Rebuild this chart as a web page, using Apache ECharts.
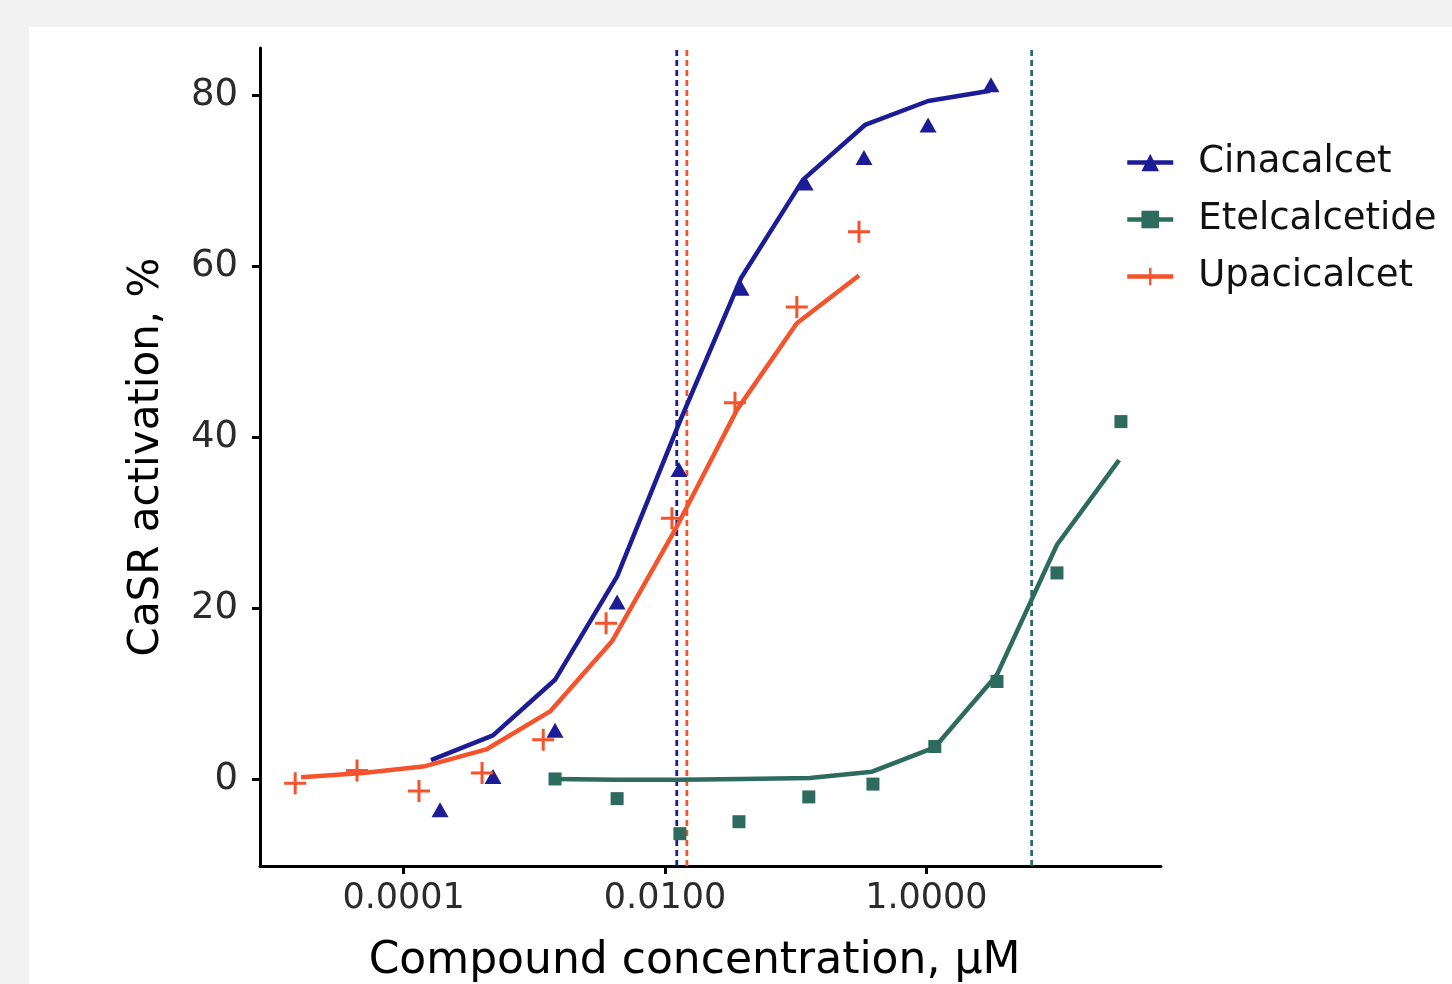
<!DOCTYPE html>
<html>
<head>
<meta charset="utf-8">
<script src="https://cdn.jsdelivr.net/npm/echarts@6/dist/echarts.min.js"></script>
<style>
html,body{margin:0;padding:0;background:#f2f2f2;width:1452px;height:984px;overflow:hidden;}
#chart{position:absolute;left:29px;top:27px;width:1423px;height:957px;background:#ffffff;}
</style>
</head>
<body>
<div id="chart"></div>
<script>
// ---- data (concentration in µM, response in %) ----
const cinaConc = [1.90e-4, 4.83e-4, 1.44e-3, 4.30e-3, 0.0128, 0.0382, 0.118, 0.333, 1.03, 3.12];
const cinaResp = [-3.6, 0.3, 5.7, 20.7, 36.2, 57.4, 69.7, 72.7, 76.5, 81.2];
const cinaFitConc = [1.62e-4, 4.83e-4, 1.44e-3, 4.30e-3, 0.0128, 0.0382, 0.114, 0.339, 1.03, 3.07];
const cinaFitResp = [2.2, 5.1, 11.6, 23.7, 41.6, 58.6, 70.1, 76.5, 79.3, 80.5];

const etelConc = [1.44e-3, 4.30e-3, 0.0130, 0.0368, 0.126, 0.390, 1.16, 3.47, 9.98, 30.8];
const etelResp = [0.0, -2.3, -6.4, -5.0, -2.1, -0.6, 3.8, 11.4, 24.1, 41.8];
const etelFitConc = [1.44e-3, 4.30e-3, 0.0130, 0.0388, 0.128, 0.384, 1.16, 3.47, 9.98, 29.8];
const etelFitResp = [0.0, -0.1, -0.1, 0.0, 0.1, 0.85, 3.7, 12.2, 27.4, 37.3];

const upaConc = [1.48e-5, 4.40e-5, 1.31e-4, 3.98e-4, 1.17e-3, 3.54e-3, 0.0113, 0.0343, 0.102, 0.305];
const upaResp = [-0.5, 1.0, -1.4, 0.7, 4.6, 18.2, 30.5, 44.0, 55.2, 64.0];
const upaFitConc = [1.64e-5, 4.89e-5, 1.46e-4, 4.35e-4, 1.32e-3, 3.93e-3, 0.0119, 0.0356, 0.102, 0.305];
const upaFitResp = [0.2, 0.7, 1.5, 3.5, 7.9, 16.1, 29.1, 43.2, 53.3, 58.9];

const ec50Conc = { Cinacalcet: 0.0123, Etelcalcetide: 6.39, Upacicalcet: 0.0147 };

const compounds = ['Cinacalcet', 'Etelcalcetide', 'Upacicalcet'];
const xTickConc = [0.0001, 0.01, 1];          // tick labels (µM), log-spaced
const yTicks = [0, 20, 40, 60, 80];
const xMinConc = 7.96e-6, xMaxConc = 62.4;
const yMin = -10.18, yMax = 85.5;

// ---- log10 scale helper: x axis is a value axis in log10(concentration) ----
const lg = v => Math.log10(v);

// ---- styles ----
const FONT = 'DejaVu Sans';
const colors = { Cinacalcet: '#1c1c96', Etelcalcetide: '#2c6b5d', Upacicalcet: '#f4532b' };
const plusPath = 'path://M9.5,0H12.5V9.5H22V12.5H12.5V22H9.5V12.5H0V9.5H9.5Z';
const symbols = { Cinacalcet: 'triangle', Etelcalcetide: 'rect', Upacicalcet: plusPath };
const symSizes = { Cinacalcet: [17, 15], Etelcalcetide: 13, Upacicalcet: 22 };

const toXY = (conc, resp) => conc.map((c, i) => [lg(c), resp[i]]);
const sets = {
  Cinacalcet: { pts: toXY(cinaConc, cinaResp), fit: toXY(cinaFitConc, cinaFitResp) },
  Etelcalcetide: { pts: toXY(etelConc, etelResp), fit: toXY(etelFitConc, etelFitResp) },
  Upacicalcet: { pts: toXY(upaConc, upaResp), fit: toXY(upaFitConc, upaFitResp) }
};

const series = [];
compounds.forEach(name => {
  series.push({
    name: name, type: 'line', data: sets[name].fit,
    symbol: symbols[name], showSymbol: false, silent: true,
    lineStyle: { color: colors[name], width: 4.5, cap: 'butt', join: 'round' },
    itemStyle: { color: colors[name] },
    emphasis: { disabled: true }, z: 3
  });
});
// EC50 reference lines (vertical, dashed)
compounds.forEach(name => {
  series.push({
    name: name + ' EC50', type: 'line',
    data: [[lg(ec50Conc[name]), yMin], [lg(ec50Conc[name]), yMax]],
    symbol: 'none', showSymbol: false, silent: true,
    lineStyle: { color: colors[name], width: 2.8, type: [6, 4] },
    emphasis: { disabled: true }, z: 2
  });
});
compounds.forEach(name => {
  series.push({
    name: name, type: 'scatter', data: sets[name].pts,
    symbol: symbols[name], symbolSize: symSizes[name], silent: true,
    itemStyle: { color: colors[name], opacity: 1 },
    emphasis: { disabled: true }, z: 4
  });
});

const chart = echarts.init(document.getElementById('chart'), null, { renderer: 'canvas' });
chart.setOption({
  animation: false,
  backgroundColor: '#ffffff',
  textStyle: { fontFamily: FONT },
  grid: { left: 231, top: 21, width: 901, height: 818, containLabel: false, outerBoundsMode: 'none' },
  legend: {
    data: compounds, orient: 'vertical', left: 1096, top: 117, padding: 0,
    itemWidth: 46, itemHeight: 22, itemGap: 20,
    lineStyle: { width: 4.5 },
    textStyle: { fontFamily: FONT, fontSize: 37, color: '#111', lineHeight: 37, padding: [0, 0, 0, 20] },
    selectedMode: false
  },
  xAxis: {
    type: 'value', min: lg(xMinConc), max: lg(xMaxConc),
    name: 'Compound concentration, µM', nameLocation: 'middle', nameGap: 74,
    nameTextStyle: { fontFamily: FONT, fontSize: 44, color: '#000', padding: [0, 32, 0, 0] },
    axisLine: { show: true, onZero: false, lineStyle: { color: '#000', width: 3 } },
    axisTick: { show: true, inside: false, customValues: xTickConc.map(lg), length: 8, lineStyle: { color: '#000', width: 3 } },
    axisLabel: { customValues: xTickConc.map(lg), margin: 15, fontFamily: FONT, fontSize: 35, color: '#2b2b2b',
      formatter: v => Math.pow(10, v).toFixed(4) },
    splitLine: { show: false }, minorTick: { show: false }
  },
  yAxis: {
    type: 'value', min: yMin, max: yMax,
    name: 'CaSR activation, %', nameLocation: 'middle', nameGap: 92, nameRotate: 90,
    nameTextStyle: { fontFamily: FONT, fontSize: 42, color: '#000' },
    axisLine: { show: true, onZero: false, lineStyle: { color: '#000', width: 3 } },
    axisTick: { show: true, customValues: yTicks, length: 8, lineStyle: { color: '#000', width: 3 } },
    axisLabel: { customValues: yTicks, margin: 22, fontFamily: FONT, fontSize: 37, color: '#2b2b2b' },
    splitLine: { show: false }
  },
  series: series
});
</script>
</body>
</html>
